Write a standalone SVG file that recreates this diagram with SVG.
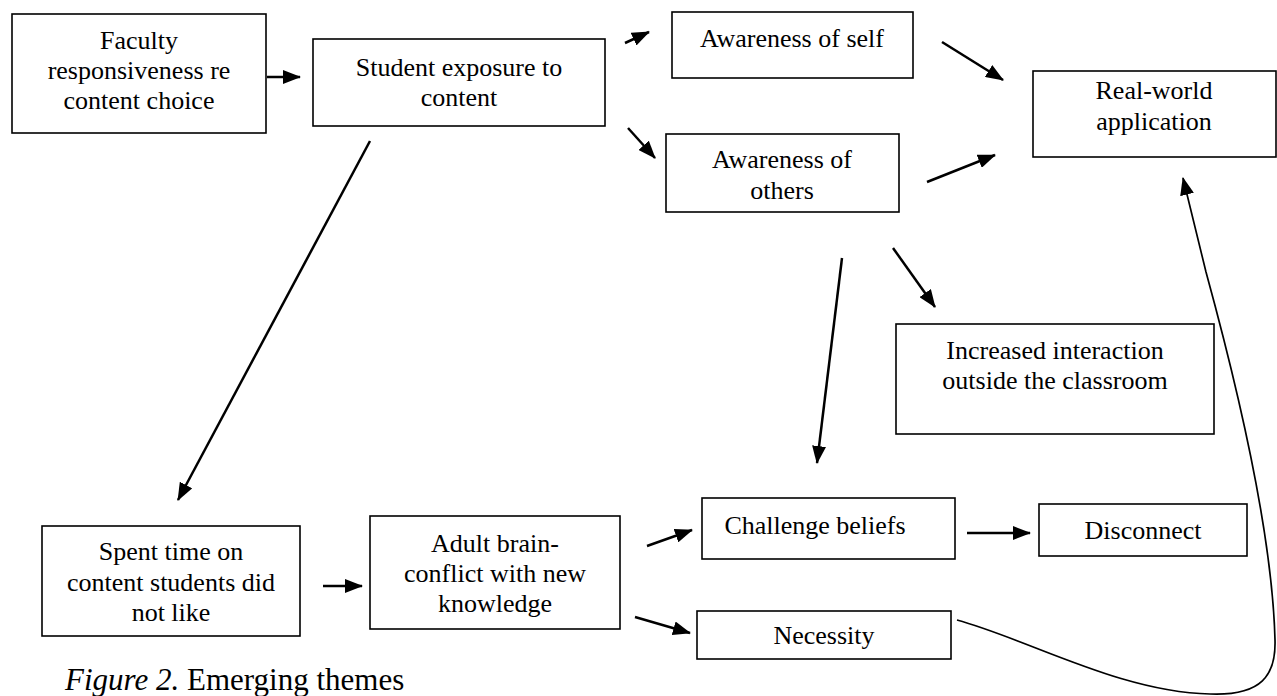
<svg xmlns="http://www.w3.org/2000/svg" width="1277" height="696" viewBox="0 0 1277 696">
<style>
.box{fill:#fff;stroke:#000;stroke-width:1.6}
.t{font-family:"Liberation Serif","Times New Roman",serif;font-size:26px;fill:#000;text-anchor:middle}
.cap{font-family:"Liberation Serif","Times New Roman",serif;font-size:31px;fill:#000}
.c{fill:none;stroke:#000;stroke-width:2.5}
.cv{fill:none;stroke:#000;stroke-width:1.7}
</style>
<defs>
<marker id="ah" viewBox="0 0 18 14" refX="17" refY="7" markerWidth="18" markerHeight="14" markerUnits="userSpaceOnUse" orient="auto">
<path d="M0,0 L18,7 L0,14 z" fill="#000"/>
</marker>
</defs>
<rect width="1277" height="696" fill="#fff"/>
<g id="connectors">
<line class="c" x1="267" y1="77" x2="300" y2="77" marker-end="url(#ah)"/>
<line class="c" x1="625" y1="43" x2="649" y2="32" marker-end="url(#ah)"/>
<line class="c" x1="628" y1="128" x2="655" y2="158" marker-end="url(#ah)"/>
<line class="c" x1="942" y1="42" x2="1003" y2="80" marker-end="url(#ah)"/>
<line class="c" x1="927" y1="182" x2="995" y2="155" marker-end="url(#ah)"/>
<line class="c" x1="893" y1="248" x2="935" y2="307" marker-end="url(#ah)"/>
<line class="c" x1="842" y1="258" x2="817" y2="463" marker-end="url(#ah)"/>
<line class="c" x1="370" y1="141" x2="178" y2="500" marker-end="url(#ah)"/>
<line class="c" x1="323" y1="586" x2="362" y2="586" marker-end="url(#ah)"/>
<line class="c" x1="647" y1="546" x2="692" y2="530" marker-end="url(#ah)"/>
<line class="c" x1="635" y1="617" x2="690" y2="633" marker-end="url(#ah)"/>
<line class="c" x1="967" y1="533" x2="1030" y2="533" marker-end="url(#ah)"/>
<path class="cv" d="M957,620 C1030,640 1120,692 1210,694 C1262,696 1276,675 1275,640 C1273,560 1252,440 1206,272 L1183,178" marker-end="url(#ah)"/>
</g>
<g id="faculty">
<rect class="box" x="12" y="14" width="254" height="119"/>
<text class="t" x="139" y="49">Faculty</text>
<text class="t" x="139" y="79">responsiveness re</text>
<text class="t" x="139" y="109">content choice</text>
</g>
<g id="student">
<rect class="box" x="313" y="39" width="292" height="87"/>
<text class="t" x="459" y="76">Student exposure to</text>
<text class="t" x="459" y="106">content</text>
</g>
<g id="self">
<rect class="box" x="672" y="12" width="241" height="66"/>
<text class="t" x="792" y="47">Awareness of self</text>
</g>
<g id="others">
<rect class="box" x="666" y="134" width="233" height="78"/>
<text class="t" x="782" y="168">Awareness of</text>
<text class="t" x="782" y="199">others</text>
</g>
<g id="realworld">
<rect class="box" x="1033" y="71" width="243" height="86"/>
<text class="t" x="1154" y="99">Real-world</text>
<text class="t" x="1154" y="130">application</text>
</g>
<g id="increased">
<rect class="box" x="896" y="324" width="318" height="110"/>
<text class="t" x="1055" y="359">Increased interaction</text>
<text class="t" x="1055" y="389">outside the classroom</text>
</g>
<g id="spent">
<rect class="box" x="42" y="526" width="258" height="110"/>
<text class="t" x="171" y="560">Spent time on</text>
<text class="t" x="171" y="591">content students did</text>
<text class="t" x="171" y="621">not like</text>
</g>
<g id="adult">
<rect class="box" x="370" y="516" width="250" height="113"/>
<text class="t" x="495" y="552">Adult brain-</text>
<text class="t" x="495" y="582">conflict with new</text>
<text class="t" x="495" y="612">knowledge</text>
</g>
<g id="challenge">
<rect class="box" x="702" y="498" width="253" height="61"/>
<text class="t" x="815" y="534">Challenge beliefs</text>
</g>
<g id="disconnect">
<rect class="box" x="1039" y="504" width="208" height="52"/>
<text class="t" x="1143" y="539">Disconnect</text>
</g>
<g id="necessity">
<rect class="box" x="697" y="611" width="254" height="48"/>
<text class="t" x="824" y="644">Necessity</text>
</g>
<g id="caption">
<text class="cap" x="65" y="690"><tspan font-style="italic">Figure 2.</tspan> Emerging themes</text>
</g>
</svg>
